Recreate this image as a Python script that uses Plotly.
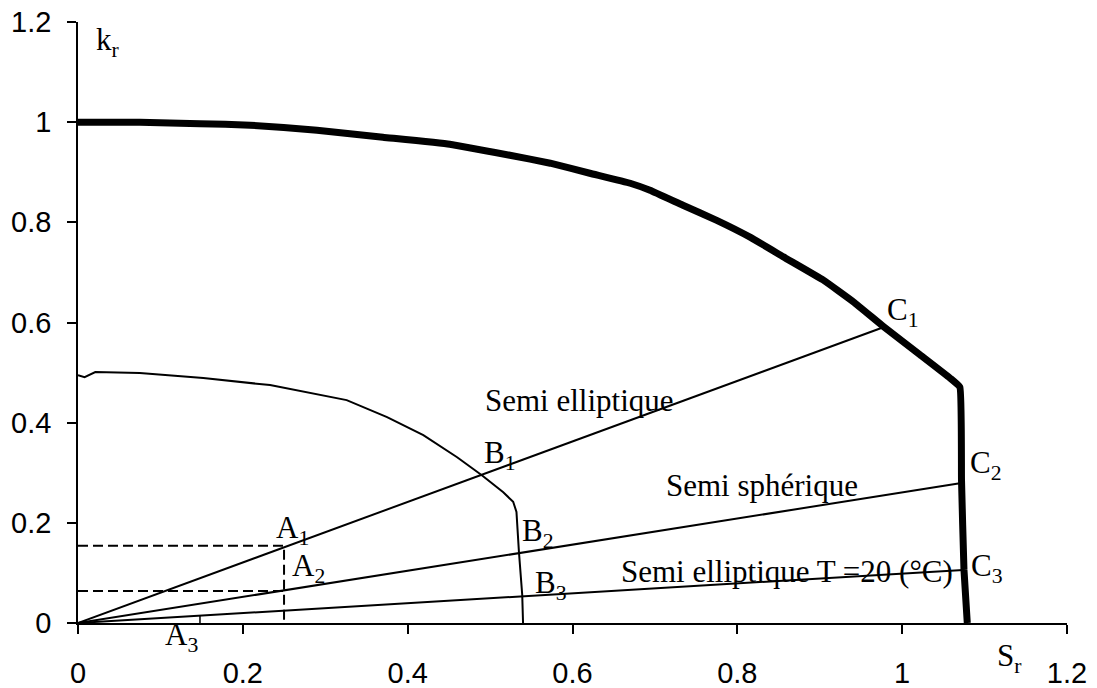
import plotly.graph_objects as go

# Outer (thick) curve
outer_S = [0.0, 0.075, 0.148, 0.209, 0.290, 0.370, 0.451, 0.524, 0.573, 0.621, 0.670, 0.694, 0.734, 0.775, 0.816, 0.856, 0.904, 0.941, 0.978, 1.022, 1.058, 1.070, 1.072, 1.075, 1.079]
outer_k = [1.0, 1.0, 0.997, 0.994, 0.984, 0.970, 0.956, 0.934, 0.918, 0.898, 0.878, 0.864, 0.834, 0.804, 0.770, 0.731, 0.685, 0.641, 0.591, 0.535, 0.489, 0.471, 0.285, 0.106, 0.0]

# Inner curve
inner_S = [0.0, 0.008, 0.021, 0.075, 0.152, 0.233, 0.326, 0.375, 0.419, 0.460, 0.490, 0.516, 0.528, 0.532, 0.535, 0.539, 0.540]
inner_k = [0.495, 0.491, 0.501, 0.499, 0.489, 0.475, 0.445, 0.411, 0.375, 0.331, 0.295, 0.261, 0.242, 0.222, 0.142, 0.056, 0.0]

# Straight lines from origin
line1_S = [0.0, 0.978]
line1_k = [0.0, 0.591]
line2_S = [0.0, 1.070]
line2_k = [0.0, 0.279]
line3_S = [0.0, 1.074]
line3_k = [0.0, 0.106]

# Dashed guide lines
dashA1_S = [0.0, 0.25, 0.25]
dashA1_k = [0.154, 0.154, 0.0]
dashA2_S = [0.0, 0.25]
dashA2_k = [0.064, 0.064]

# small mark for A3
markA3_S = [0.148, 0.148]
markA3_k = [0.0, 0.016]

tick_vals = [0, 0.2, 0.4, 0.6, 0.8, 1.0, 1.2]
tick_text = ["0", "0.2", "0.4", "0.6", "0.8", "1", "1.2"]

# (text, x, y, pixel shift)
labels = [
    ("Semi elliptique", 0.492, 0.445, 0),
    ("Semi sphérique", 0.711, 0.275, 0),
    ("Semi elliptique T =20 (°C)", 0.657, 0.102, 0),
    ("C<sub>1</sub>", 0.979, 0.62, 0),
    ("C<sub>2</sub>", 1.080, 0.315, 0),
    ("C<sub>3</sub>", 1.081, 0.11, 0),
    ("B<sub>1</sub>", 0.490, 0.335, 0),
    ("B<sub>2</sub>", 0.536, 0.18, 0),
    ("B<sub>3</sub>", 0.552, 0.076, 0),
    ("A<sub>1</sub>", 0.238, 0.186, 0),
    ("A<sub>2</sub>", 0.257, 0.11, 0),
    ("A<sub>3</sub>", 0.103, 0.0, -14),
    ("k<sub>r</sub>", 0.02, 1.16, 0),
    ("S<sub>r</sub>", 1.113, 0.0, -35),
]

fig = go.Figure()
thin = dict(color="black", width=2)
dashed = dict(color="black", width=2, dash="10px,5px")
fig.add_trace(go.Scatter(x=line1_S, y=line1_k, mode="lines", line=thin))
fig.add_trace(go.Scatter(x=line2_S, y=line2_k, mode="lines", line=thin))
fig.add_trace(go.Scatter(x=line3_S, y=line3_k, mode="lines", line=thin))
fig.add_trace(go.Scatter(x=dashA1_S, y=dashA1_k, mode="lines", line=dashed))
fig.add_trace(go.Scatter(x=dashA2_S, y=dashA2_k, mode="lines", line=dashed))
fig.add_trace(go.Scatter(x=markA3_S, y=markA3_k, mode="lines", line=dict(color="black", width=1.5)))
fig.add_trace(go.Scatter(x=inner_S, y=inner_k, mode="lines", line=dict(color="black", width=2)))
fig.add_trace(go.Scatter(x=outer_S, y=outer_k, mode="lines", line=dict(color="black", width=7, shape="spline", smoothing=0.3)))

for txt, x, y, shift in labels:
    fig.add_annotation(x=x, y=y, yshift=shift, text=txt, showarrow=False, xanchor="left", yanchor="middle",
                       font=dict(family="Liberation Serif", size=31, color="black"))

axis_common = dict(
    range=[0, 1.2], tickvals=tick_vals, ticktext=tick_text, showgrid=False, zeroline=False,
    showline=True, linecolor="black", linewidth=1.5, ticks="outside", ticklen=9, tickwidth=1.5,
    tickcolor="black", tickfont=dict(family="Liberation Sans", size=29, color="black"),
    automargin=False,
)
fig.update_xaxes(**axis_common, ticklabelstandoff=14)
fig.update_yaxes(**axis_common, ticklabelstandoff=10)
fig.update_layout(
    width=1097, height=688, showlegend=False,
    plot_bgcolor="white", paper_bgcolor="white",
    margin=dict(l=78, r=30, t=22, b=65),
)
fig.write_html("out.html", config={"displayModeBar": False},
               post_script="document.body.style.margin='0px';document.body.style.padding='0px';")
